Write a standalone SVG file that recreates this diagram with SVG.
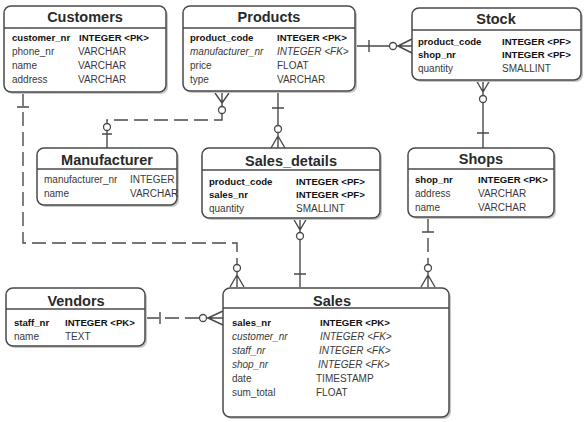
<svg xmlns="http://www.w3.org/2000/svg" width="585" height="422" viewBox="0 0 585 422">
<style>
.box{fill:#fff;stroke:#4a4a4a;stroke-width:1.5}
.sh{fill:#c8c8c8;stroke:none}
.sep{stroke:#4a4a4a;stroke-width:1.5}
.title{font-family:"Liberation Sans",Arial,sans-serif;font-size:14.5px;font-weight:bold;fill:#2a2a2a;text-anchor:middle}
.t{font-family:"Liberation Sans",Arial,sans-serif;font-size:10px;fill:#3a3a3a}
.b{font-weight:bold;fill:#111;font-size:9.6px}
.i{font-style:italic}
.c{fill:none;stroke:#4a4a4a;stroke-width:1.4}
.d{stroke-dasharray:14 6}
.o{fill:#fff;stroke:#4a4a4a;stroke-width:1.3}
</style>
<g id="connectors">
  <!-- Customers - Sales (dashed) -->
  <path class="c d" d="M23,92 V243 H237 V268"/>
  <path class="c" d="M17,107 H29 M237,272 V287 M237,275 L230,287 M237,275 L244,287"/>
  <circle class="o" cx="237" cy="268" r="3.5"/>
  <!-- Products - Manufacturer (dashed) -->
  <path class="c d" d="M222,114 V120 H107 V126"/>
  <path class="c" d="M222,93 V106 M222,103 L215,93 M222,103 L229,93 M107,131 V148 M102,134 H112"/>
  <circle class="o" cx="222" cy="110" r="3.5"/>
  <circle class="o" cx="107" cy="127" r="3.5"/>
  <!-- Products - Sales_details -->
  <path class="c" d="M278,93 V148 M272,108 H284 M278,136 L271,148 M278,136 L285,148"/>
  <circle class="o" cx="278" cy="129" r="3.5"/>
  <!-- Products - Stock -->
  <path class="c" d="M355,46 H412 M369,40 V52 M398,46 L412,39 M398,46 L412,53"/>
  <circle class="o" cx="393" cy="46" r="3.5"/>
  <!-- Stock - Shops -->
  <path class="c" d="M483,80 V148 M483,92 L476,80 M483,92 L490,80 M477,133 H489"/>
  <circle class="o" cx="483" cy="99" r="3.5"/>
  <!-- Sales_details - Sales -->
  <path class="c" d="M300,218 V287 M300,230 L293,218 M300,230 L307,218 M294,274 H306"/>
  <circle class="o" cx="300" cy="236" r="3.5"/>
  <!-- Shops - Sales (dashed) -->
  <path class="c d" d="M428,218 V264"/>
  <path class="c" d="M428,272 V287 M422,232 H434 M428,275 L421,287 M428,275 L435,287"/>
  <circle class="o" cx="428" cy="268" r="3.5"/>
  <!-- Vendors - Sales (dashed) -->
  <path class="c d" d="M145,318 H199"/>
  <path class="c" d="M207,318 H223 M160,312 V324 M208,318 L223,311 M208,318 L223,325"/>
  <circle class="o" cx="203" cy="318" r="3.5"/>
</g>
<g id="customers">
  <rect class="sh" x="6" y="8" width="162" height="86" rx="7"/>
  <rect class="box" x="4" y="6" width="162" height="86" rx="7"/>
  <line class="sep" x1="4" y1="28" x2="166" y2="28"/>
  <text class="title" x="85" y="22">Customers</text>
  <text class="t b" x="12" y="41">customer_nr</text><text class="t b" x="79" y="41">INTEGER &lt;PK&gt;</text>
  <text class="t" x="12" y="55">phone_nr</text><text class="t" x="78" y="55">VARCHAR</text>
  <text class="t" x="12" y="69">name</text><text class="t" x="78" y="69">VARCHAR</text>
  <text class="t" x="12" y="83">address</text><text class="t" x="78" y="83">VARCHAR</text>
</g>
<g id="products">
  <rect class="sh" x="185" y="8" width="172" height="85" rx="7"/>
  <rect class="box" x="183" y="6" width="172" height="85" rx="7"/>
  <line class="sep" x1="183" y1="28" x2="355" y2="28"/>
  <text class="title" x="269" y="22">Products</text>
  <text class="t b" x="190" y="41">product_code</text><text class="t b" x="277" y="41">INTEGER &lt;PK&gt;</text>
  <text class="t i" x="190" y="55">manufacturer_nr</text><text class="t i" x="277" y="55">INTEGER &lt;FK&gt;</text>
  <text class="t" x="190" y="69">price</text><text class="t" x="277" y="69">FLOAT</text>
  <text class="t" x="190" y="83">type</text><text class="t" x="277" y="83">VARCHAR</text>
</g>
<g id="stock">
  <rect class="sh" x="414" y="10" width="169" height="72" rx="7"/>
  <rect class="box" x="412" y="8" width="169" height="72" rx="7"/>
  <line class="sep" x1="412" y1="30" x2="581" y2="30"/>
  <text class="title" x="496" y="24">Stock</text>
  <text class="t b" x="418" y="45">product_code</text><text class="t b" x="502" y="45">INTEGER &lt;PF&gt;</text>
  <text class="t b" x="418" y="58">shop_nr</text><text class="t b" x="502" y="58">INTEGER &lt;PF&gt;</text>
  <text class="t" x="418" y="72">quantity</text><text class="t" x="502" y="72">SMALLINT</text>
</g>
<g id="manufacturer">
  <rect class="sh" x="39" y="150" width="140" height="57" rx="7"/>
  <rect class="box" x="37" y="148" width="140" height="57" rx="7"/>
  <line class="sep" x1="37" y1="169" x2="177" y2="169"/>
  <text class="title" x="107" y="165">Manufacturer</text>
  <text class="t" x="44" y="183">manufacturer_nr</text><text class="t" x="130" y="183">INTEGER</text>
  <text class="t" x="44" y="197">name</text><text class="t" x="130" y="197">VARCHAR</text>
</g>
<g id="sales_details">
  <rect class="sh" x="204" y="150" width="178" height="70" rx="7"/>
  <rect class="box" x="202" y="148" width="178" height="70" rx="7"/>
  <line class="sep" x1="202" y1="170" x2="380" y2="170"/>
  <text class="title" x="291" y="166">Sales_details</text>
  <text class="t b" x="209" y="185">product_code</text><text class="t b" x="296" y="185">INTEGER &lt;PF&gt;</text>
  <text class="t b" x="209" y="198">sales_nr</text><text class="t b" x="296" y="198">INTEGER &lt;PF&gt;</text>
  <text class="t" x="209" y="212">quantity</text><text class="t" x="296" y="212">SMALLINT</text>
</g>
<g id="shops">
  <rect class="sh" x="410" y="150" width="146" height="69" rx="7"/>
  <rect class="box" x="408" y="148" width="146" height="69" rx="7"/>
  <line class="sep" x1="408" y1="169" x2="554" y2="169"/>
  <text class="title" x="481" y="164">Shops</text>
  <text class="t b" x="415" y="183">shop_nr</text><text class="t b" x="478" y="183">INTEGER &lt;PK&gt;</text>
  <text class="t" x="415" y="197">address</text><text class="t" x="478" y="197">VARCHAR</text>
  <text class="t" x="415" y="211">name</text><text class="t" x="478" y="211">VARCHAR</text>
</g>
<g id="vendors">
  <rect class="sh" x="8" y="290" width="139" height="58" rx="7"/>
  <rect class="box" x="6" y="288" width="139" height="58" rx="7"/>
  <line class="sep" x1="6" y1="309" x2="145" y2="309"/>
  <text class="title" x="76" y="306">Vendors</text>
  <text class="t b" x="14" y="326">staff_nr</text><text class="t b" x="65" y="326">INTEGER &lt;PK&gt;</text>
  <text class="t" x="14" y="340">name</text><text class="t" x="65" y="340">TEXT</text>
</g>
<g id="sales">
  <rect class="sh" x="225" y="290" width="226" height="129" rx="7"/>
  <rect class="box" x="223" y="288" width="226" height="129" rx="7"/>
  <line class="sep" x1="223" y1="308" x2="449" y2="308"/>
  <text class="title" x="332" y="306">Sales</text>
  <text class="t b" x="232" y="326">sales_nr</text><text class="t b" x="320" y="326">INTEGER &lt;PK&gt;</text>
  <text class="t i" x="232" y="340">customer_nr</text><text class="t i" x="320" y="340">INTEGER &lt;FK&gt;</text>
  <text class="t i" x="232" y="354">staff_nr</text><text class="t i" x="319" y="354">INTEGER &lt;FK&gt;</text>
  <text class="t i" x="232" y="368">shop_nr</text><text class="t i" x="318" y="368">INTEGER &lt;FK&gt;</text>
  <text class="t" x="232" y="382">date</text><text class="t" x="316" y="382">TIMESTAMP</text>
  <text class="t" x="232" y="396">sum_total</text><text class="t" x="316" y="396">FLOAT</text>
</g>
</svg>
